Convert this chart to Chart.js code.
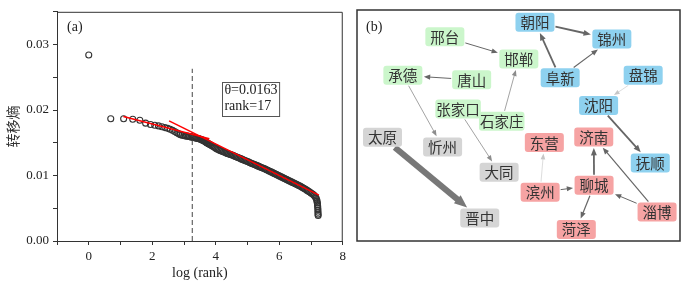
<!DOCTYPE html>
<html>
<head>
<meta charset="utf-8">
<script src="https://cdn.jsdelivr.net/npm/chart.js@4.4.1/dist/chart.umd.min.js"></script>
<style>
  body { margin: 0; background: #fff; width: 687px; height: 287px; position: relative; overflow: hidden; }
  #rankChart { position: absolute; left: 0; top: 0; }
  #netChart { position: absolute; left: 350px; top: 0; }
</style>
</head>
<body>
<canvas id="rankChart" width="350" height="287"></canvas>
<canvas id="netChart" width="337" height="287"></canvas>
<script>
// (a) transfer entropy against log(rank)
const logRank = [
  0, 0.693, 1.099, 1.386, 1.609, 1.792, 1.946, 2.079, 2.197, 2.303, 2.398, 2.485, 2.565, 2.639, 2.708,
  2.773, 2.833, 2.890, 2.944, 2.996, 3.045, 3.091, 3.135, 3.178, 3.219, 3.258, 3.296, 3.333, 3.367,
  3.401, 3.434, 3.466, 3.497, 3.526, 3.555, 3.584, 3.611, 3.638, 3.664, 3.689, 3.714, 3.738, 3.761,
  3.784, 3.807, 3.84, 3.88, 3.92, 3.96, 4.00, 4.04, 4.08, 4.12, 4.16, 4.20, 4.24, 4.28, 4.32, 4.36,
  4.40, 4.44, 4.48, 4.52, 4.56, 4.60, 4.64, 4.68, 4.72, 4.76, 4.80, 4.84, 4.88, 4.92, 4.96, 5.00,
  5.04, 5.08, 5.12, 5.16, 5.20, 5.24, 5.28, 5.32, 5.36, 5.40, 5.44, 5.48, 5.52, 5.56, 5.60, 5.64,
  5.68, 5.72, 5.76, 5.80, 5.84, 5.88, 5.92, 5.96, 6.00, 6.04, 6.08, 6.12, 6.16, 6.20, 6.24, 6.28,
  6.32, 6.36, 6.40, 6.44, 6.48, 6.52, 6.56, 6.60, 6.64, 6.68, 6.72, 6.76, 6.80, 6.84, 6.88, 6.92,
  6.96, 7.00, 7.04, 7.08, 7.11, 7.14, 7.16, 7.18, 7.19, 7.20, 7.205, 7.21, 7.215, 7.218, 7.22, 7.222, 7.225
];
const entropy = [
  0.0284, 0.01866, 0.01866, 0.01860, 0.01845, 0.01800, 0.01780, 0.01768, 0.01758, 0.01745, 0.01732, 0.01720, 0.01706, 0.01690, 0.01672,
  0.01652, 0.01636, 0.01624, 0.01616, 0.01610, 0.01605, 0.01601, 0.01598, 0.01594, 0.01590, 0.01586, 0.01582, 0.01578, 0.01574,
  0.01570, 0.01566, 0.01562, 0.01558, 0.01553, 0.01547, 0.01540, 0.01533, 0.01526, 0.01518, 0.01510, 0.01502, 0.01495, 0.01488,
  0.01482, 0.01476, 0.01466, 0.01455, 0.01442, 0.01430, 0.01418, 0.01406, 0.01396, 0.01386, 0.01378, 0.01370, 0.01362, 0.01354, 0.01346, 0.01338,
  0.01331, 0.01324, 0.01317, 0.01312, 0.01304, 0.01295, 0.01287, 0.01279, 0.01271, 0.01262, 0.01254, 0.01246, 0.01238, 0.01229, 0.01221, 0.01213,
  0.01205, 0.01196, 0.01188, 0.01180, 0.01172, 0.01163, 0.01155, 0.01147, 0.01139, 0.01130, 0.01122, 0.01114, 0.01106, 0.01098, 0.01089, 0.01079,
  0.01070, 0.01060, 0.01051, 0.01041, 0.01032, 0.01022, 0.01013, 0.01003, 0.00994, 0.00984, 0.00975, 0.00965, 0.00956, 0.00946, 0.00937, 0.00927,
  0.00918, 0.00908, 0.00899, 0.00889, 0.00880, 0.00870, 0.00861, 0.00851, 0.00842, 0.00831, 0.00820, 0.00809, 0.00797, 0.00785, 0.00773, 0.00760,
  0.00747, 0.00734, 0.00720, 0.00705, 0.00690, 0.00672, 0.00655, 0.00630, 0.00605, 0.00580, 0.00555, 0.00530, 0.00500, 0.00470, 0.00440, 0.00410, 0.00390
];
const fitLeftX = [1.09, 3.80];
const fitLeftY = [0.0190, 0.01561];
const fitRightX = [2.53, 7.25];
const fitRightY = [0.01835, 0.0070];
const cutX = [3.26, 3.26];
const cutY = [0, 0.0263];
const noteLines = ['θ=0.0163', 'rank=17'];
const notePos = [4.21, 0.02434];

// (b) transfer-entropy network between cities
const cities = ['朝阳', '锦州', '阜新', '盘锦', '沈阳', '抚顺',
  '邢台', '邯郸', '承德', '唐山', '张家口', '石家庄',
  '太原', '忻州', '大同', '晋中',
  '东营', '济南', '滨州', '聊城', '淄博', '菏泽'];
const cityX = [55.1, 78.9, 62.9, 88.6, 74.8, 90.8,
  27.2, 50.1, 14.2, 35.5, 31.3, 44.8,
  7.9, 26.5, 44.0, 38.0,
  58.0, 73.3, 56.7, 73.4, 92.9, 67.9];
const cityY = [94.7, 87.4, 70.7, 71.7, 58.7, 33.8,
  88.4, 78.8, 71.7, 69.8, 57.1, 51.8,
  44.9, 40.7, 29.8, 10.0,
  42.6, 45.0, 21.1, 24.1, 12.6, 5.0];
const cityProvince = ['辽宁', '辽宁', '辽宁', '辽宁', '辽宁', '辽宁',
  '河北', '河北', '河北', '河北', '河北', '河北',
  '山西', '山西', '山西', '山西',
  '山东', '山东', '山东', '山东', '山东', '山东'];
const linkFrom = ['邢台', '唐山', '承德', '石家庄', '张家口', '太原', '阜新', '朝阳', '阜新',
  '盘锦', '沈阳', '滨州', '滨州', '聊城', '淄博', '淄博', '聊城'];
const linkTo = ['邯郸', '承德', '忻州', '邯郸', '大同', '晋中', '朝阳', '锦州', '锦州',
  '沈阳', '抚顺', '东营', '聊城', '济南', '济南', '聊城', '菏泽'];
const linkWeight = [1.0, 1.0, 0.8, 0.8, 0.8, 6.0, 1.8, 1.8, 1.2,
  0.6, 1.8, 0.6, 1.0, 1.8, 1.2, 1.0, 1.2];

const provinceColor = { '辽宁': '#8ed1ef', '河北': '#cbf6cb', '山西': '#d5d5d5', '山东': '#f6a3a3' };
const serif = '"Liberation Serif", "Times New Roman", serif';
const cjk = '"Noto Sans CJK SC", sans-serif';

const rankDecor = {
  id: 'rankDecor',
  afterDatasetsDraw(chart) {
    const { ctx, chartArea: a, scales } = chart;
    ctx.save();
    ctx.strokeStyle = '#333';
    ctx.lineWidth = 1;
    ctx.beginPath();
    ctx.moveTo(a.left, a.top + 0.5);
    ctx.lineTo(a.right - 0.5, a.top + 0.5);
    ctx.lineTo(a.right - 0.5, a.bottom);
    ctx.stroke();

    ctx.fillStyle = '#222';
    ctx.font = '14px ' + serif;
    ctx.textBaseline = 'middle';
    ctx.fillText('(a)', a.left + 10, a.top + 16);

    // threshold note
    const bx = scales.x.getPixelForValue(notePos[0]);
    const by = scales.y.getPixelForValue(notePos[1]);
    const w = Math.max(...noteLines.map(t => ctx.measureText(t).width)) + 4;
    const h = 34;
    ctx.fillStyle = '#fff';
    ctx.fillRect(bx, by, w, h);
    ctx.strokeStyle = '#555';
    ctx.strokeRect(Math.round(bx) + 0.5, Math.round(by) + 0.5, w, h);
    ctx.fillStyle = '#222';
    noteLines.forEach((t, i) => ctx.fillText(t, bx + 2, by + 9 + i * 16));
    ctx.restore();
  }
};

new Chart(document.getElementById('rankChart'), {
  type: 'scatter',
  data: {
    datasets: [
      {
        data: logRank.map((x, i) => ({ x: x, y: entropy[i] })),
        pointStyle: 'circle',
        pointRadius: 3,
        borderColor: '#333',
        borderWidth: 1.1,
        backgroundColor: 'rgba(0,0,0,0)',
        order: 3
      },
      {
        type: 'line',
        data: fitLeftX.map((x, i) => ({ x: x, y: fitLeftY[i] })),
        borderColor: '#ff0000',
        borderWidth: 1.5,
        pointRadius: 0,
        order: 1
      },
      {
        type: 'line',
        data: fitRightX.map((x, i) => ({ x: x, y: fitRightY[i] })),
        borderColor: '#ff0000',
        borderWidth: 1.5,
        pointRadius: 0,
        order: 1
      },
      {
        type: 'line',
        data: cutX.map((x, i) => ({ x: x, y: cutY[i] })),
        borderColor: '#444',
        borderWidth: 1,
        borderDash: [5, 3],
        pointRadius: 0,
        order: 2
      }
    ]
  },
  options: {
    responsive: false,
    animation: false,
    layout: { padding: { left: 0, top: 11, right: 7, bottom: 0 } },
    plugins: { legend: { display: false }, tooltip: { enabled: false } },
    scales: {
      x: {
        type: 'linear',
        min: -1, max: 8,
        afterFit: s => { s.height = 46; },
        border: { color: '#333', width: 1 },
        grid: { drawOnChartArea: false, drawTicks: true, tickLength: 4, color: '#333' },
        ticks: {
          stepSize: 1, autoSkip: false, maxRotation: 0, padding: 4,
          color: '#222', font: { family: serif, size: 13 },
          callback: v => (Math.round(v) % 2 === 0 ? String(Math.round(v)) : '')
        },
        title: { display: true, text: 'log (rank)', color: '#222', font: { family: serif, size: 14 }, padding: { top: 0, bottom: 5 } }
      },
      y: {
        min: 0, max: 0.035,
        afterFit: s => { s.width = 57; },
        border: { color: '#333', width: 1 },
        grid: { drawOnChartArea: false, drawTicks: true, tickLength: 4, color: '#333' },
        ticks: {
          stepSize: 0.005, autoSkip: false, padding: 4,
          color: '#222', font: { family: serif, size: 13 },
          callback: v => (Math.round(v * 200) % 2 === 0 ? v.toFixed(2) : '')
        },
        title: { display: true, text: '转移熵', color: '#333', font: { family: cjk, size: 14 }, padding: { top: 4, bottom: 0 } }
      }
    }
  },
  plugins: [rankDecor]
});

function edgeColor(w) {
  if (w > 3) return '#787878';
  if (w <= 0.6) return '#c6c6c6';
  if (w < 1) return '#8c8c8c';
  return '#666';
}

const netDraw = {
  id: 'netDraw',
  afterDatasetsDraw(chart) {
    const { ctx, chartArea: a, scales } = chart;
    ctx.save();
    ctx.font = '14.5px ' + cjk;
    const nodes = {};
    cities.forEach((c, i) => {
      const tw = ctx.measureText(c).width;
      nodes[c] = {
        x: scales.x.getPixelForValue(cityX[i]),
        y: scales.y.getPixelForValue(cityY[i]),
        hw: Math.max(39, tw + 2) / 2,
        hh: 9.5,
        fill: provinceColor[cityProvince[i]]
      };
    });
    const edgePoint = (n, dx, dy) => {
      const t = Math.min(n.hw / Math.max(Math.abs(dx), 1e-6), n.hh / Math.max(Math.abs(dy), 1e-6));
      return [n.x + dx * t, n.y + dy * t];
    };

    linkFrom.forEach((f, i) => {
      const s = nodes[f], e = nodes[linkTo[i]], w = linkWeight[i];
      let dx = e.x - s.x, dy = e.y - s.y;
      const len = Math.hypot(dx, dy);
      dx /= len; dy /= len;
      const p0 = edgePoint(s, dx, dy);
      const p1 = edgePoint(e, -dx, -dy);
      const tipX = p1[0] - dx * 1.5, tipY = p1[1] - dy * 1.5;
      const headLen = 5 + w * 1.3, headHalf = 2 + w * 0.55;
      const col = edgeColor(w);
      ctx.strokeStyle = col;
      ctx.fillStyle = col;
      ctx.lineWidth = w;
      ctx.beginPath();
      ctx.moveTo(p0[0] + dx, p0[1] + dy);
      ctx.lineTo(tipX - dx * headLen * 0.8, tipY - dy * headLen * 0.8);
      ctx.stroke();
      const bx = tipX - dx * headLen, by = tipY - dy * headLen;
      ctx.beginPath();
      ctx.moveTo(tipX, tipY);
      ctx.lineTo(bx - dy * headHalf, by + dx * headHalf);
      ctx.lineTo(bx + dy * headHalf, by - dx * headHalf);
      ctx.closePath();
      ctx.fill();
    });

    ctx.textAlign = 'center';
    ctx.textBaseline = 'middle';
    cities.forEach(c => {
      const n = nodes[c];
      ctx.fillStyle = n.fill;
      ctx.beginPath();
      ctx.roundRect(n.x - n.hw, n.y - n.hh, n.hw * 2, n.hh * 2, 3);
      ctx.fill();
      ctx.fillStyle = '#333';
      ctx.fillText(c, n.x, n.y + 0.5);
    });

    ctx.strokeStyle = '#333';
    ctx.lineWidth = 1.5;
    ctx.strokeRect(a.left, a.top, a.right - a.left, a.bottom - a.top);
    ctx.fillStyle = '#222';
    ctx.textAlign = 'left';
    ctx.font = '14px ' + serif;
    ctx.fillText('(b)', a.left + 9, a.top + 17);
    ctx.restore();
  }
};

new Chart(document.getElementById('netChart'), {
  type: 'scatter',
  data: {
    datasets: [{
      data: cities.map((c, i) => ({ x: cityX[i], y: cityY[i] })),
      pointRadius: 0
    }]
  },
  options: {
    responsive: false,
    animation: false,
    layout: { padding: { left: 7, right: 7, top: 10, bottom: 46 } },
    plugins: { legend: { display: false }, tooltip: { enabled: false } },
    scales: {
      x: { display: false, min: 0, max: 100 },
      y: { display: false, min: 0, max: 100 }
    }
  },
  plugins: [netDraw]
});
</script>
</body>
</html>
